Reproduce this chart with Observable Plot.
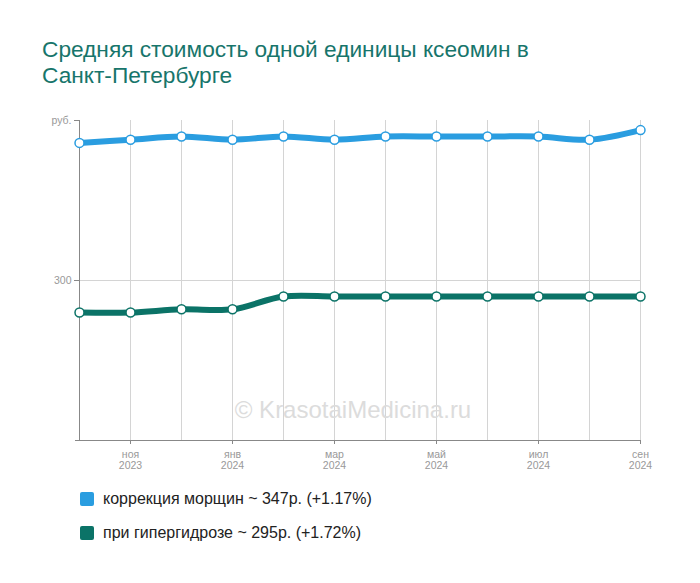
<!DOCTYPE html>
<html>
<head>
<meta charset="utf-8">
<script src="https://cdn.jsdelivr.net/npm/d3@7"></script>
<script src="https://cdn.jsdelivr.net/npm/@observablehq/plot@0.6"></script>
<style>
  html, body { margin: 0; padding: 0; background: #fff; }
  body { width: 700px; height: 583px; position: relative; overflow: hidden; font-family: "Liberation Sans", Arial, sans-serif; }
  #title { position: absolute; left: 42px; top: 36px; font-size: 22.7px; line-height: 26px; color: #17756b; width: 620px; }
  #chart { position: absolute; left: 0; top: 0; }
  #wm { position: absolute; left: 0; width: 706px; top: 396px; text-align: center; font-size: 24px; color: #dcdcdc; }
  .leg { position: absolute; left: 80px; font-size: 16px; color: #222; display: flex; align-items: center; }
  .sw { width: 14px; height: 14px; border-radius: 2px; margin-right: 9px; }
</style>
</head>
<body>
<div id="chart"></div>
<div id="wm">© KrasotaiMedicina.ru</div>
<div id="title">Средняя стоимость одной единицы ксеомин в<br>Санкт-Петербурге</div>
<div id="legend"></div>
<script>
const months = ["2023-10","2023-11","2023-12","2024-01","2024-02","2024-03","2024-04","2024-05","2024-06","2024-07","2024-08","2024-09"];
const monthNames = ["окт","ноя","дек","янв","фев","мар","апр","май","июн","июл","авг","сен"];
const tickMonths = ["2023-11","2024-01","2024-03","2024-05","2024-07","2024-09"];
const wrinkles = [343,344,345,344,345,344,345,345,345,345,344,347];
const hyperhidrosis = [290,290,291,291,295,295,295,295,295,295,295,295];
const seriesNames = ["коррекция морщин ~ 347р. (+1.17%)", "при гипергидрозе ~ 295р. (+1.72%)"];
const seriesColors = ["#2a9de0", "#0b7367"];
const yTicks = [300, 350];

const data = [];
months.forEach((m, i) => {
  data.push({month: m, value: wrinkles[i], series: 0});
  data.push({month: m, value: hyperhidrosis[i], series: 1});
});

const fmtX = m => {
  const i = months.indexOf(m);
  return monthNames[i] + "\n" + m.slice(0, 4);
};

const chart = Plot.plot({
  width: 700,
  height: 583,
  marginTop: 120,
  marginBottom: 143,
  marginLeft: 79,
  marginRight: 60,
  style: {fontFamily: "'Liberation Sans', Arial, sans-serif", fontSize: "10.5px", color: "#999", background: "transparent"},
  x: {type: "point", domain: months, padding: 0},
  y: {domain: [250, 350]},
  marks: [
    Plot.gridX(months, {stroke: "#d4d4d4", strokeOpacity: 1}),
    Plot.gridY([300], {stroke: "#d4d4d4", strokeOpacity: 1}),
    Plot.ruleY([250], {stroke: "#888", insetLeft: -4}),
    Plot.ruleX([months[0]], {stroke: "#888"}),
    Plot.axisX(tickMonths, {tickFormat: fmtX, tickSize: 4, tickPadding: 6, lineHeight: 1.05, label: null, stroke: "#888", fill: "#999"}),
    Plot.axisY(yTicks, {tickFormat: d => d === 350 ? "руб." : String(d), tickSize: 5, tickPadding: 3, label: null, stroke: "#888", fill: "#999"}),
    Plot.line(data, {x: "month", y: "value", z: "series", stroke: d => seriesColors[d.series], strokeWidth: 6, curve: "catmull-rom"}),
    Plot.dot(data, {x: "month", y: "value", r: 4.5, fill: "white", stroke: d => seriesColors[d.series], strokeWidth: 1.5})
  ]
});
document.getElementById("chart").appendChild(chart);

const legend = document.getElementById("legend");
seriesNames.forEach((name, i) => {
  const row = document.createElement("div");
  row.className = "leg";
  row.style.top = (490 + i * 34) + "px";
  const sw = document.createElement("div");
  sw.className = "sw";
  sw.style.background = seriesColors[i];
  const tx = document.createElement("span");
  tx.textContent = name;
  row.appendChild(sw);
  row.appendChild(tx);
  legend.appendChild(row);
});
</script>
</body>
</html>
